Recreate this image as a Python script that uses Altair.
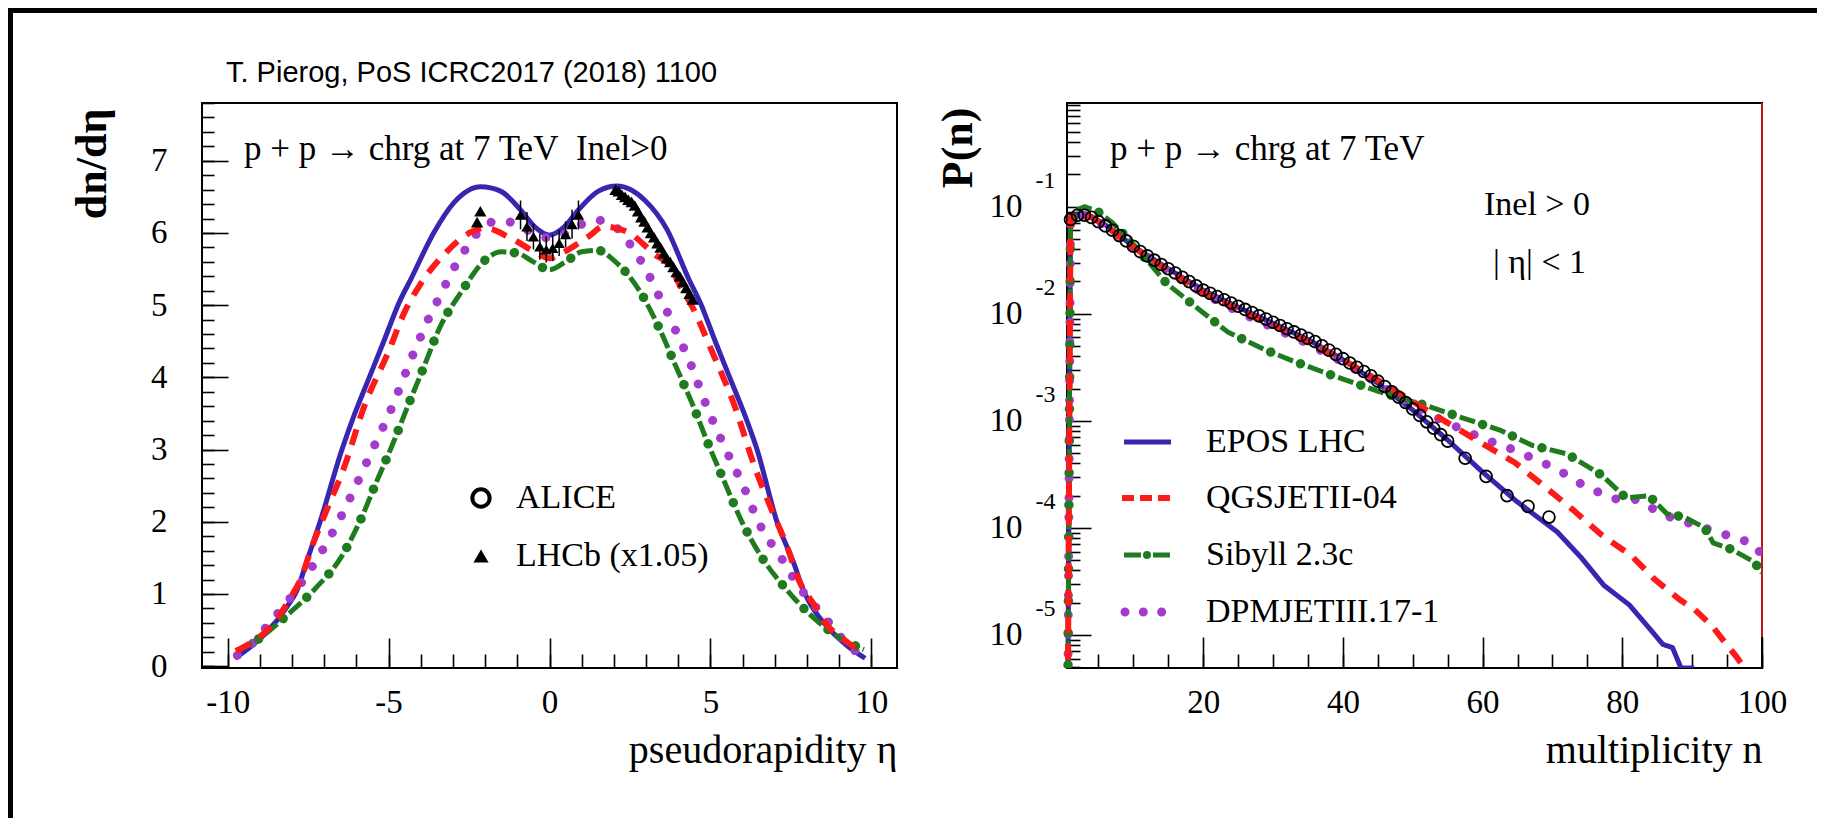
import altair as alt
import pandas as pd

SERIF = "Liberation Serif"
SANS = "Liberation Sans"
BLUE = "#3826B0"
RED = "#FF1A1A"
GREEN = "#1E7B1E"
PURPLE = "#A43CCB"

# ---------------- left panel: dn/deta vs eta ----------------
epos_eta = [-9.78, -9.29, -8.77, -8.15, -7.85, -7.53, -7.13, -6.45, -6.05, -5.6, -5.15, -4.65, -4.32, -3.6, -2.97, -2.14, -1.52, -0.9, -0.45, 0.0,
            0.45, 0.9, 1.52, 2.1, 2.97, 3.65, 4.32, 4.69, 5.15, 5.6, 6.05, 6.45, 7.07, 7.59, 7.9, 8.15, 8.62, 9.29, 9.81]
epos_dn = [0.11, 0.27, 0.48, 0.83, 1.05, 1.47, 2.0, 3.0, 3.5, 4.0, 4.5, 5.06, 5.35, 6.0, 6.42, 6.64, 6.58, 6.32, 6.08, 5.97,
           6.08, 6.32, 6.58, 6.65, 6.45, 6.05, 5.37, 5.03, 4.5, 4.0, 3.5, 3.0, 2.0, 1.43, 1.04, 0.83, 0.55, 0.27, 0.11]

qgs_eta = [-9.75, -9.29, -8.66, -8.02, -7.72, -7.38, -6.92, -6.41, -5.74, -5.0, -4.52, -4.0, -3.28, -2.4, -2.0, -1.21, -0.38, 0.0,
           0.38, 1.21, 1.68, 2.4, 3.28, 3.75, 4.0, 4.48, 5.03, 5.74, 6.41, 6.9, 7.38, 7.74, 8.26, 8.66, 9.04, 9.29, 9.75]
qgs_dn = [0.21, 0.32, 0.55, 0.97, 1.22, 1.66, 2.17, 2.72, 3.62, 4.36, 4.89, 5.3, 5.7, 6.02, 6.07, 5.93, 5.72, 5.65,
          5.72, 5.95, 6.09, 6.02, 5.7, 5.54, 5.32, 4.94, 4.38, 3.62, 2.72, 2.17, 1.66, 1.2, 0.83, 0.55, 0.41, 0.32, 0.21]

sib_eta = [-9.7, -9.03, -8.15, -7.27, -6.49, -5.9, -5.37, -4.86, -4.37, -3.9, -3.39, -2.76, -1.99, -1.5, -1.0, -0.5, 0.0,
           0.5, 1.0, 1.5, 2.0, 2.84, 3.39, 3.93, 4.45, 4.94, 5.43, 5.98, 6.58, 7.33, 8.16, 9.04, 9.77]
sib_dn = [0.22, 0.38, 0.71, 1.08, 1.5, 2.0, 2.56, 3.09, 3.64, 4.15, 4.71, 5.17, 5.63, 5.74, 5.72, 5.6, 5.49,
          5.6, 5.74, 5.76, 5.62, 5.17, 4.7, 4.15, 3.62, 3.07, 2.56, 2.0, 1.52, 1.08, 0.69, 0.39, 0.23]

dpm_eta = [-9.7, -9.2, -8.75, -8.35, -7.93, -7.23, -6.61, -6.05, -5.5, -4.95, -4.21, -3.98, -3.7, -3.41, -3.13, -2.82, -2.51, -2.14, -1.57, -0.95, -0.45, 0.0,
           0.45, 0.95, 1.43, 2.14, 2.51, 2.82, 3.13, 3.41, 3.7, 4.0, 4.25, 4.95, 5.48, 6.05, 6.49, 7.23, 7.76, 8.35, 8.75, 9.2, 9.7]
dpm_dn = [0.15, 0.33, 0.57, 0.78, 1.02, 1.48, 1.96, 2.47, 3.0, 3.53, 4.35, 4.59, 4.87, 5.12, 5.38, 5.63, 5.84, 6.05, 6.17, 6.11, 5.98, 5.93,
          5.98, 6.11, 6.18, 6.05, 5.84, 5.63, 5.38, 5.12, 4.87, 4.57, 4.33, 3.53, 3.0, 2.47, 2.0, 1.48, 1.1, 0.78, 0.57, 0.33, 0.15]

# central data points (with error bars)
cen_eta = [-0.9, -0.7, -0.5, -0.3, -0.1, 0.1, 0.3, 0.5, 0.7, 0.9]
cen_dn = [6.25, 6.09, 5.95, 5.81, 5.77, 5.79, 5.86, 5.98, 6.12, 6.25]
cen_err = [0.2, 0.2, 0.18, 0.18, 0.18, 0.18, 0.18, 0.18, 0.2, 0.2]

# LHCb (x1.05)
lhcb_eta = [-2.25, -2.15, 2.05, 2.15, 2.25, 2.35, 2.45, 2.55, 2.65, 2.75, 2.85, 2.95, 3.05, 3.15, 3.25, 3.35, 3.45,
            3.55, 3.65, 3.75, 3.85, 3.95, 4.05, 4.15, 4.25, 4.35, 4.45]
lhcb_dn = [6.15, 6.3, 6.6, 6.58, 6.53, 6.5, 6.46, 6.43, 6.38, 6.3, 6.22, 6.16, 6.08, 6.0, 5.94, 5.86, 5.8,
           5.72, 5.65, 5.6, 5.53, 5.46, 5.4, 5.32, 5.24, 5.16, 5.08]

# ---------------- right panel: P(n) vs n (values given as log10 P) ----------------
alice_n = list(range(1, 56)) + [57.5, 60.5, 63.5, 66.5, 69.5]
alice_lp = [-1.12, -1.08, -1.08, -1.10, -1.14, -1.18, -1.22, -1.27, -1.32, -1.37,
            -1.42, -1.46, -1.50, -1.54, -1.58, -1.62, -1.66, -1.70, -1.74, -1.78,
            -1.81, -1.84, -1.87, -1.90, -1.93, -1.96, -1.99, -2.02, -2.05, -2.08,
            -2.11, -2.14, -2.17, -2.20, -2.23, -2.26, -2.30, -2.34, -2.38, -2.42,
            -2.46, -2.50, -2.54, -2.58, -2.63, -2.68, -2.73, -2.78, -2.83, -2.89,
            -2.95, -3.01, -3.07, -3.13, -3.19, -3.35, -3.52, -3.70, -3.80, -3.90]

epos_n = [0.5, 1, 2, 3, 4, 6, 8, 10, 15, 20, 25, 30, 35, 40, 45, 50, 55, 60, 65, 70.7, 74, 77.4, 81.0, 84.4, 85.8,
          87.2, 88.4, 90.3]
epos_lp = [-7.0, -1.13, -1.07, -1.07, -1.09, -1.17, -1.27, -1.37, -1.58, -1.78, -1.94, -2.09, -2.24, -2.43, -2.65, -2.90,
           -3.18, -3.48, -3.76, -4.04, -4.27, -4.54, -4.72, -4.98, -5.09, -5.12, -5.31, -5.31]

qgs_n = [0.5, 1, 2, 3, 4, 6, 8, 10, 15, 20, 25, 30, 35, 40, 45, 50, 55, 60.4, 64.6, 68.8, 72.9, 77.1, 81.3, 84.6, 88.4,
         90.3, 92.9, 94.9, 96.3, 97.5]
qgs_lp = [-7.0, -1.10, -1.07, -1.08, -1.10, -1.18, -1.28, -1.38, -1.60, -1.80, -1.96, -2.11, -2.26, -2.43, -2.62, -2.82,
          -3.02, -3.23, -3.39, -3.61, -3.83, -4.07, -4.26, -4.48, -4.68, -4.76, -4.92, -5.09, -5.20, -5.31]

sib_n = [0.5, 1, 2, 3, 5, 7, 10, 14.8, 19.4, 23.5, 28.6, 32.8, 37.8, 45.3, 52, 57, 62.6, 67.1, 72.1, 77.1, 80.5, 83.8,
         86.4, 88.9, 91.8, 93, 95.6, 98.9, 100]
sib_lp = [-7.0, -1.15, -1.03, -1.00, -1.05, -1.15, -1.35, -1.72, -1.96, -2.17, -2.33, -2.44, -2.56, -2.73, -2.86, -2.97,
          -3.09, -3.23, -3.31, -3.51, -3.72, -3.70, -3.87, -3.90, -4.00, -4.14, -4.20, -4.32, -4.42]

dpm_n = [0.5, 1, 2, 3, 4, 6, 8, 10, 15, 20, 25, 30, 35, 40, 45, 50, 53.7, 57, 61, 64, 68.6, 71.1, 74.6, 78.8, 81.7,
         86.4, 92.2, 95.1, 98.9, 100]
dpm_lp = [-7.0, -1.13, -1.08, -1.08, -1.10, -1.18, -1.28, -1.38, -1.60, -1.81, -1.98, -2.13, -2.28, -2.45, -2.65, -2.85,
          -2.98, -3.08, -3.19, -3.26, -3.39, -3.47, -3.61, -3.73, -3.73, -3.89, -4.01, -4.07, -4.15, -4.26]

# tick values
xl_major = [-10, -5, 0, 5, 10]
xl_minor = list(range(-10, 11))
yl_major = [0, 1, 2, 3, 4, 5, 6, 7]
yl_minor = [round(0.2 * i, 1) for i in range(0, 40)]
xr_major = [20, 40, 60, 80, 100]
xr_minor = list(range(5, 101, 5))
yr_major = [1e-5, 1e-4, 1e-3, 1e-2, 1e-1]
yr_minor = [m * 10.0 ** k for k in range(-6, 0) for m in range(2, 10) if 4.9e-6 <= m * 10.0 ** k <= 0.93]

# ---------------- layout ----------------
PW, PH, GAP = 695, 565, 170
XR0 = PW + GAP
W = XR0 + PW
PAD_L, PAD_T, PAD_R, PAD_B = 194, 95, 55, 150

XL_DOM = [-10.8, 10.8]
YL_DOM = [-0.025, 7.8]
XR_DOM = [0.5, 100]
YR_DOM = [4.9e-6, 0.93]


def sxl():
    return alt.Scale(domain=XL_DOM, range=[0, PW], zero=False, nice=False)


def syl():
    return alt.Scale(domain=YL_DOM, range=[PH, 0], zero=False, nice=False)


def sxr():
    return alt.Scale(domain=XR_DOM, range=[XR0, W], zero=False, nice=False)


def syr():
    return alt.Scale(type="log", domain=YR_DOM, range=[PH, 0], nice=False)


ONE = pd.DataFrame({"k": [0]})


def df_left(eta, dn):
    return pd.DataFrame({"x": eta, "y": dn})


def df_right(n, lp):
    return pd.DataFrame({"x": n, "y": [10.0 ** v for v in lp]})


def curve(df, xs, ys, color, width, dash=None, cap="butt", offset=None, interp="linear"):
    kw = dict(color=color, strokeWidth=width, strokeCap=cap, strokeJoin="round", clip=True, interpolate=interp)
    if dash is not None:
        kw["strokeDash"] = dash
    if offset is not None:
        kw["strokeDashOffset"] = offset
    return alt.Chart(df).mark_line(**kw).encode(
        x=alt.X("x:Q", scale=xs(), axis=None),
        y=alt.Y("y:Q", scale=ys(), axis=None),
    )


def model_layers(dfs, xs, ys, interp):
    e, q, s, d = dfs
    return [
        curve(e, xs, ys, BLUE, 5, interp=interp),
        curve(d, xs, ys, PURPLE, 9, dash=[0.01, 19.5], cap="round", interp=interp),
        curve(s, xs, ys, GREEN, 5, dash=[16, 16], interp=interp),
        curve(s, xs, ys, GREEN, 9.5, dash=[0.01, 31.99], cap="round", offset=8, interp=interp),
        curve(q, xs, ys, RED, 6, dash=[16, 11], interp=interp),
    ]


def txt(s, x, y, size, font=SERIF, align="left", baseline="alphabetic", weight="normal"):
    return alt.Chart(ONE).mark_text(
        text=s, font=font, fontSize=size, align=align, baseline=baseline, fontWeight=weight, color="black"
    ).encode(x=alt.value(x), y=alt.value(y))


def hrule(x1, x2, y, color, width, dash=None, cap="butt"):
    kw = dict(color=color, strokeWidth=width, strokeCap=cap)
    if dash is not None:
        kw["strokeDash"] = dash
    return alt.Chart(ONE).mark_rule(**kw).encode(x=alt.value(x1), x2=alt.value(x2), y=alt.value(y))


AX = dict(domain=False, grid=False, tickColor="black", tickWidth=1.6, labelColor="black", labelFont=SERIF,
          labelFontSize=33, labelFlush=False, labelOverlap=False, titleColor="black")


def axis_layer(xdom, ydom, xs, ys, xaxis, yaxis):
    df = pd.DataFrame({"ax": xdom, "ay": ydom})
    return alt.Chart(df).mark_point(opacity=0).encode(
        x=alt.X("ax:Q", scale=xs(), axis=xaxis),
        y=alt.Y("ay:Q", scale=ys(), axis=yaxis),
    )


neg_expr = "datum.value < 0 ? '-' + abs(datum.value) : '' + datum.value"

left_major = axis_layer(
    XL_DOM, YL_DOM, sxl, syl,
    alt.Axis(orient="bottom", values=xl_major, offset=-30, tickSize=30, labelPadding=18, labelExpr=neg_expr,
             title="pseudorapidity η", titleFont=SERIF, titleFontSize=40, titleFontWeight="normal",
             titleAlign="right", titleBaseline="alphabetic", titleX=PW, titleY=124, **AX),
    alt.Axis(orient="left", values=yl_major, offset=-26, tickSize=26, labelPadding=35, labelExpr=neg_expr,
             title="dn/dη", titleFont=SERIF, titleFontSize=44, titleFontWeight="bold", titleAngle=270,
             titleAlign="right", titleBaseline="middle", titleX=-136, titleY=5, **AX),
)
left_minor = axis_layer(
    XL_DOM, YL_DOM, sxl, syl,
    alt.Axis(orient="bottom", values=xl_minor, offset=-14, tickSize=14, labels=False, title=None, **AX),
    alt.Axis(orient="left", values=yl_minor, offset=-12, tickSize=12, labels=False, title=None, **AX),
)
right_major = axis_layer(
    XR_DOM, YR_DOM, sxr, syr,
    alt.Axis(orient="bottom", values=xr_major, offset=-31, tickSize=31, labelPadding=18, labelExpr="'' + datum.value",
             title="multiplicity n", titleFont=SERIF, titleFontSize=40, titleFontWeight="normal",
             titleAlign="right", titleBaseline="alphabetic", titleX=W, titleY=125, **AX),
    alt.Axis(orient="left", values=yr_major, offset=-(XR0 + 24), tickSize=24, labelPadding=45, labelExpr="'10'",
             title="P(n)", titleFont=SERIF, titleFontSize=44, titleFontWeight="bold", titleAngle=270,
             titleAlign="right", titleBaseline="middle", titleX=-133, titleY=4, **AX),
)
right_minor = axis_layer(
    XR_DOM, YR_DOM, sxr, syr,
    alt.Axis(orient="bottom", values=xr_minor, offset=-14, tickSize=14, labels=False, title=None, **AX),
    alt.Axis(orient="left", values=yr_minor, offset=-(XR0 + 13), tickSize=13, labels=False, title=None, **AX),
)
AX_SUP = dict(AX)
AX_SUP["labelFontSize"] = 24
right_sup = axis_layer(
    XR_DOM, YR_DOM, sxr, syr, None,
    alt.Axis(orient="left", values=yr_major, offset=-XR0, tickSize=0, labelPadding=12, labelOffset=-26,
             labelExpr="'' + round(log(datum.value) / LN10)", title=None, **AX_SUP),
)

frame_l = alt.Chart(ONE).mark_rect(fillOpacity=0, stroke="black", strokeWidth=2).encode(
    x=alt.value(0), x2=alt.value(PW), y=alt.value(0), y2=alt.value(PH))
frame_r = alt.Chart(ONE).mark_rect(fillOpacity=0, stroke="black", strokeWidth=2).encode(
    x=alt.value(XR0), x2=alt.value(W), y=alt.value(0), y2=alt.value(PH))
red_edge = alt.Chart(ONE).mark_rule(color="#FF2020", strokeWidth=1.5).encode(
    x=alt.value(W), y=alt.value(0), y2=alt.value(PH - 31))

# left data points
cen_df = pd.DataFrame({"x": cen_eta, "y": cen_dn,
                       "lo": [v - e for v, e in zip(cen_dn, cen_err)],
                       "hi": [v + e for v, e in zip(cen_dn, cen_err)]})
cen_err_l = alt.Chart(cen_df).mark_rule(color="black", strokeWidth=1.5).encode(
    x=alt.X("x:Q", scale=sxl(), axis=None), y=alt.Y("lo:Q", scale=syl(), axis=None), y2="hi:Q")
cen_pts = alt.Chart(cen_df).mark_point(shape="triangle-up", filled=True, size=130, color="black", opacity=1).encode(
    x=alt.X("x:Q", scale=sxl(), axis=None), y=alt.Y("y:Q", scale=syl(), axis=None))
lhcb_pts = alt.Chart(pd.DataFrame({"x": lhcb_eta, "y": lhcb_dn})).mark_point(
    shape="triangle-up", filled=True, size=150, color="black", opacity=1).encode(
    x=alt.X("x:Q", scale=sxl(), axis=None), y=alt.Y("y:Q", scale=syl(), axis=None))

alice_pts = alt.Chart(df_right(alice_n, alice_lp)).mark_point(
    shape="circle", filled=False, size=140, strokeWidth=1.8, color="black", opacity=1).encode(
    x=alt.X("x:Q", scale=sxr(), axis=None), y=alt.Y("y:Q", scale=syr(), axis=None))

left_models = model_layers(
    [df_left(epos_eta, epos_dn), df_left(qgs_eta, qgs_dn), df_left(sib_eta, sib_dn), df_left(dpm_eta, dpm_dn)],
    sxl, syl, "monotone")
right_models = model_layers(
    [df_right(epos_n, epos_lp), df_right(qgs_n, qgs_lp), df_right(sib_n, sib_lp), df_right(dpm_n, dpm_lp)],
    sxr, syr, "linear")

# legends
leg_left = [
    alt.Chart(ONE).mark_point(shape="circle", filled=False, size=300, strokeWidth=4, color="black", opacity=1).encode(
        x=alt.value(279), y=alt.value(395)),
    alt.Chart(ONE).mark_point(shape="triangle-up", filled=True, size=230, color="black", opacity=1).encode(
        x=alt.value(279), y=alt.value(453)),
    txt("ALICE", 314, 395, 34, baseline="middle"),
    txt("LHCb (x1.05)", 314, 453, 34, baseline="middle"),
]
LX1, LX2 = 920, 968
leg_right = [
    hrule(LX1 + 2, LX2 + 1, 339, BLUE, 5),
    hrule(LX1, LX2, 395, RED, 6, dash=[12, 6]),
    hrule(LX1 + 2, LX2, 452, GREEN, 5, dash=[17, 12]),
    alt.Chart(ONE).mark_point(shape="circle", filled=True, size=65, color=GREEN, opacity=1).encode(
        x=alt.value(LX1 + 25), y=alt.value(452)),
    hrule(LX1 + 3, LX1 + 41, 509, PURPLE, 9, dash=[0.01, 18.3], cap="round"),
    txt("EPOS LHC", 1004, 339, 34, baseline="middle"),
    txt("QGSJETII-04", 1004, 395, 34, baseline="middle"),
    txt("Sibyll 2.3c", 1004, 452, 34, baseline="middle"),
    txt("DPMJETIII.17-1", 1004, 509, 34, baseline="middle"),
]

texts = [
    txt("T. Pierog, PoS ICRC2017 (2018) 1100", 24, -21, 29, font=SANS),
    txt("p + p → chrg at 7 TeV\u00a0\u00a0Inel>0", 42, 57, 35),
    txt("p + p → chrg at 7 TeV", 908, 57, 35),
    txt("Inel > 0", 1282, 112, 34),
    txt("| η| < 1", 1291, 170, 34),
]

border = [
    hrule(-PAD_L, W + PAD_R, -PAD_T + 2.5, "black", 5),
    alt.Chart(ONE).mark_rule(color="black", strokeWidth=5).encode(
        x=alt.value(-PAD_L + 2.5), y=alt.value(-PAD_T), y2=alt.value(PH + PAD_B)),
]

layers = ([left_minor, left_major, right_minor, right_major, right_sup, frame_l, frame_r, red_edge]
          + left_models + [cen_err_l, cen_pts, lhcb_pts]
          + right_models + [alice_pts]
          + leg_left + leg_right + texts + border)

chart = alt.layer(*layers).resolve_scale(x="independent", y="independent").properties(
    width=W, height=PH,
    autosize=alt.AutoSizeParams(type="none"),
    padding={"left": PAD_L, "top": PAD_T, "right": PAD_R, "bottom": PAD_B},
).configure_view(stroke=None)

chart.save("out.html", embed_options={"renderer": "svg", "actions": False})
